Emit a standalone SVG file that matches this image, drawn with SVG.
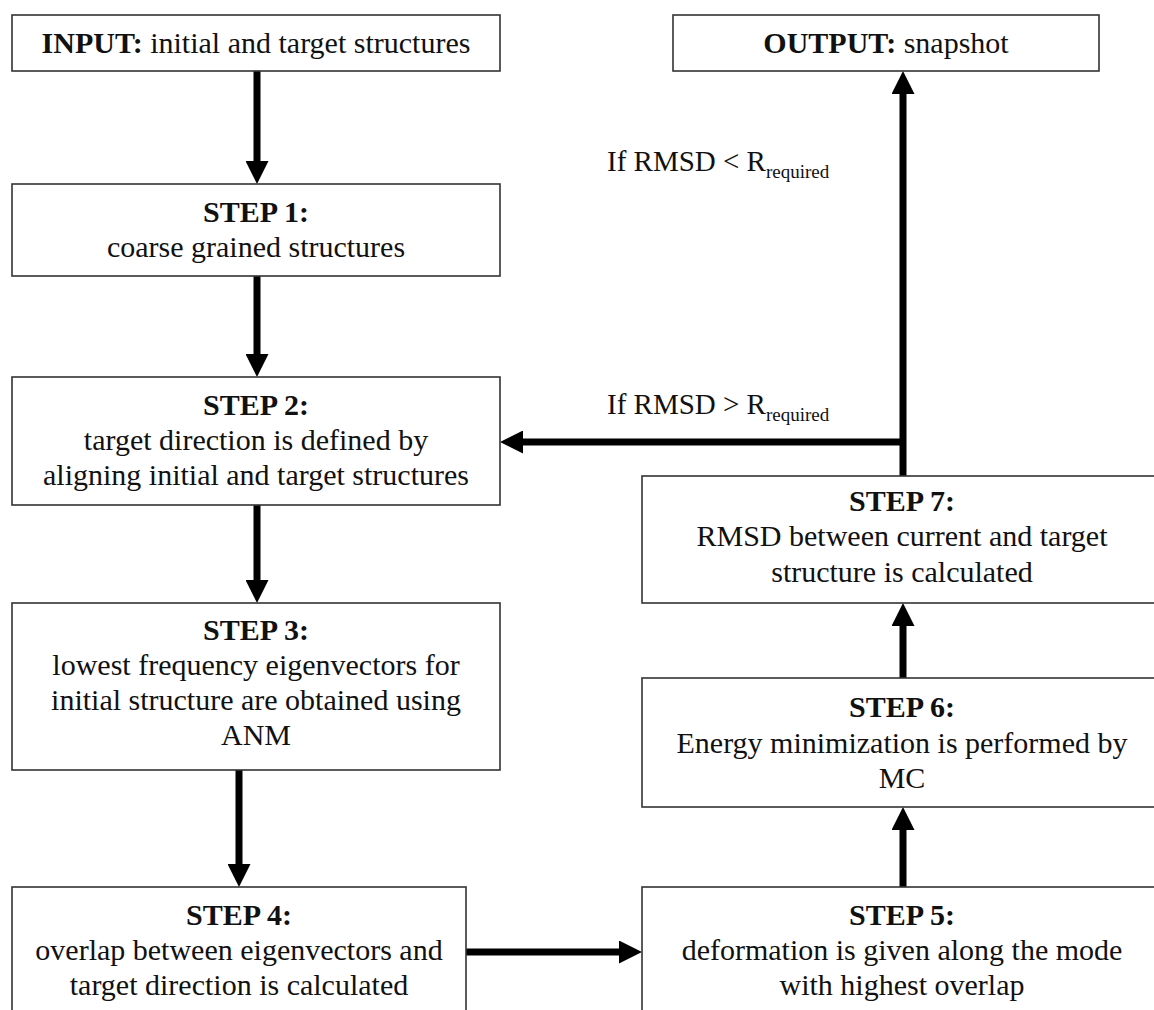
<svg xmlns="http://www.w3.org/2000/svg" width="1154" height="1010" viewBox="0 0 1154 1010">
<style>
.box{fill:#fff;stroke:#333;stroke-width:1.6}
text{font-family:'Liberation Serif','Times New Roman',serif;fill:#111}
.t{font-size:30px;text-anchor:middle}
.b{font-weight:bold}
.lbl{font-size:29px}
.sub{font-size:19px}
.c{stroke:#000;stroke-width:7;fill:none}
</style>
<defs>
<marker id="ah" markerUnits="userSpaceOnUse" markerWidth="23" markerHeight="23" viewBox="0 0 23 23" refX="8" refY="11.5" orient="auto">
<path d="M0,0 L23,11.5 L0,23 z" fill="#000"/>
</marker>
</defs>
<rect width="1154" height="1010" fill="#fff"/>
<g id="connectors">
<line class="c" x1="257" y1="71" x2="257" y2="169" marker-end="url(#ah)"/>
<line class="c" x1="257" y1="276" x2="257" y2="362" marker-end="url(#ah)"/>
<line class="c" x1="257" y1="505" x2="257" y2="588" marker-end="url(#ah)"/>
<line class="c" x1="239" y1="770" x2="239" y2="872" marker-end="url(#ah)"/>
<line class="c" x1="466" y1="952" x2="627" y2="952" marker-end="url(#ah)"/>
<line class="c" x1="903" y1="887" x2="903" y2="822" marker-end="url(#ah)"/>
<line class="c" x1="903" y1="678" x2="903" y2="618" marker-end="url(#ah)"/>
<line class="c" x1="903" y1="476" x2="903" y2="86" marker-end="url(#ah)"/>
<line class="c" x1="906" y1="442" x2="515" y2="442" marker-end="url(#ah)"/>
<text class="lbl" x="607" y="171">If RMSD &lt; R<tspan class="sub" dy="7">required</tspan></text>
<text class="lbl" x="607" y="414">If RMSD &gt; R<tspan class="sub" dy="7">required</tspan></text>
</g>
<g id="input">
<rect class="box" x="12" y="15" width="488" height="56"/>
<text class="t" x="256" y="53"><tspan class="b">INPUT:</tspan> initial and target structures</text>
</g>
<g id="output">
<rect class="box" x="673" y="15" width="426" height="56"/>
<text class="t" x="886" y="53"><tspan class="b">OUTPUT:</tspan> snapshot</text>
</g>
<g id="step1">
<rect class="box" x="12" y="184" width="488" height="92"/>
<text class="t b" x="256" y="222">STEP 1:</text>
<text class="t" x="256" y="257">coarse grained structures</text>
</g>
<g id="step2">
<rect class="box" x="12" y="377" width="488" height="128"/>
<text class="t b" x="256" y="415">STEP 2:</text>
<text class="t" x="256" y="450">target direction is defined by</text>
<text class="t" x="256" y="485">aligning initial and target structures</text>
</g>
<g id="step3">
<rect class="box" x="12" y="603" width="488" height="167"/>
<text class="t b" x="256" y="640">STEP 3:</text>
<text class="t" x="256" y="675">lowest frequency eigenvectors for</text>
<text class="t" x="256" y="710">initial structure are obtained using</text>
<text class="t" x="256" y="745">ANM</text>
</g>
<g id="step4">
<rect class="box" x="12" y="887" width="454" height="140"/>
<text class="t b" x="239" y="925">STEP 4:</text>
<text class="t" x="239" y="960">overlap between eigenvectors and</text>
<text class="t" x="239" y="995">target direction is calculated</text>
</g>
<g id="step5">
<rect class="box" x="642" y="887" width="520" height="140"/>
<text class="t b" x="902" y="925">STEP 5:</text>
<text class="t" x="902" y="960">deformation is given along the mode</text>
<text class="t" x="902" y="995">with highest overlap</text>
</g>
<g id="step6">
<rect class="box" x="642" y="678" width="520" height="129"/>
<text class="t b" x="902" y="717">STEP 6:</text>
<text class="t" x="902" y="753">Energy minimization is performed by</text>
<text class="t" x="902" y="788">MC</text>
</g>
<g id="step7">
<rect class="box" x="642" y="476" width="520" height="127"/>
<text class="t b" x="902" y="511">STEP 7:</text>
<text class="t" x="902" y="546">RMSD between current and target</text>
<text class="t" x="902" y="582">structure is calculated</text>
</g>
</svg>
